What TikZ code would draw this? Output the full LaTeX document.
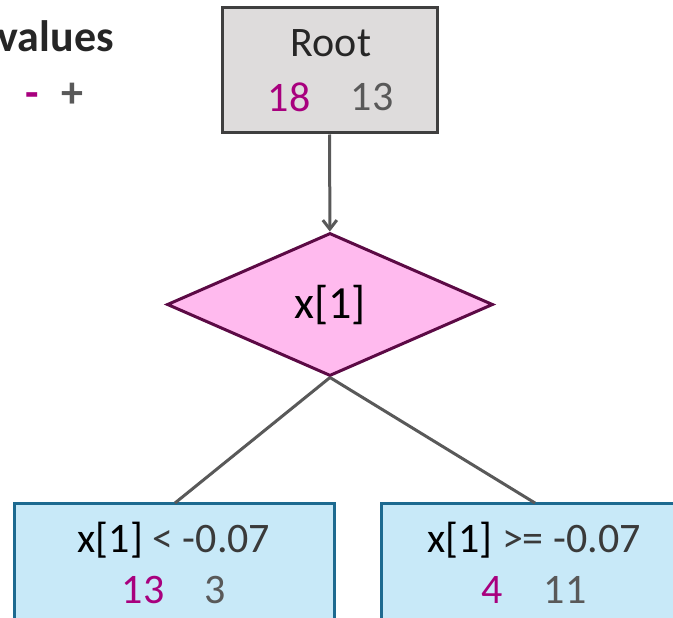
\documentclass[tikz,border=0pt]{standalone}
\usepackage{fontspec}
\setmainfont{Carlito}
\usetikzlibrary{arrows.meta,shapes.geometric}
\definecolor{negc}{HTML}{A8007E}
\definecolor{posc}{HTML}{595959}
\definecolor{txtc}{HTML}{262626}
\definecolor{relc}{HTML}{3A3A3A}
\definecolor{rootfill}{HTML}{DEDCDC}
\definecolor{rootedge}{HTML}{3F3F3F}
\definecolor{splitfill}{HTML}{FFBAEE}
\definecolor{splitedge}{HTML}{5C0A45}
\definecolor{leaffill}{HTML}{C8E9F8}
\definecolor{leafedge}{HTML}{1D6A90}
\definecolor{linec}{HTML}{595959}

\begin{document}
\begin{tikzpicture}[x=1pt,y=-1pt,
  rootbox/.style={rectangle,draw=rootedge,fill=rootfill,line width=3pt,minimum width=215pt,minimum height=125pt},
  splitnode/.style={diamond,draw=splitedge,fill=splitfill,line width=3pt,minimum width=326pt,minimum height=143pt,inner sep=0pt},
  leafbox/.style={rectangle,draw=leafedge,fill=leaffill,line width=3pt,minimum width=320pt,minimum height=150pt},
  lbl/.style={inner sep=0pt,text=txtc,font=\fontsize{42}{46}\selectfont},
  keylbl/.style={inner sep=0pt,anchor=base,font=\fontsize{44}{48}\selectfont\bfseries},
  edge/.style={draw=linec,line width=3pt}]
\useasboundingbox (0,0) rectangle (673,618);
\clip (0,0) rectangle (673,618);
\node[lbl,anchor=east,font=\fontsize{44}{48}\selectfont\bfseries] (keyname) at (114,36) {values};
\node[keylbl,text=negc] (keyneg) at (32,107) {-};
\node[keylbl,text=posc] (keypos) at (72,107) {+};

\node[rootbox] (root) at (329.5,70.5) {};
\node[lbl] (rootname) at (331,43) {Root};
\node[lbl,text=negc] (rootneg) at (289,97) {18};
\node[lbl,text=posc] (rootpos) at (372,97) {13};

\node[splitnode] (split) at (330,304.5) {};
\node[lbl,text=black,font=\fontsize{46}{50}\selectfont] (splitname) at (330,305) {x[1]};

\node[leafbox] (left) at (174,578) {};
\node[lbl] (leftname) at (174,540) {\textcolor{black}{x[1]} \textcolor{relc}{< -0.07}};
\node[lbl,text=negc] (leftneg) at (143,590) {13};
\node[lbl,text=posc] (leftpos) at (215,590) {3};

\node[leafbox] (right) at (541,578) {};
\node[lbl] (rightname) at (534,540) {\textcolor{black}{x[1]} \textcolor{relc}{>= -0.07}};
\node[lbl,text=negc] (rightneg) at (492,590) {4};
\node[lbl,text=posc] (rightpos) at (565,590) {11};

\draw[edge,-{Straight Barb[length=9pt,width=14pt]}] (root) -- (split);
\draw[edge] (split.south) -- (175,503);
\draw[edge] (split.south) -- (535,503);
\end{tikzpicture}
\end{document}
